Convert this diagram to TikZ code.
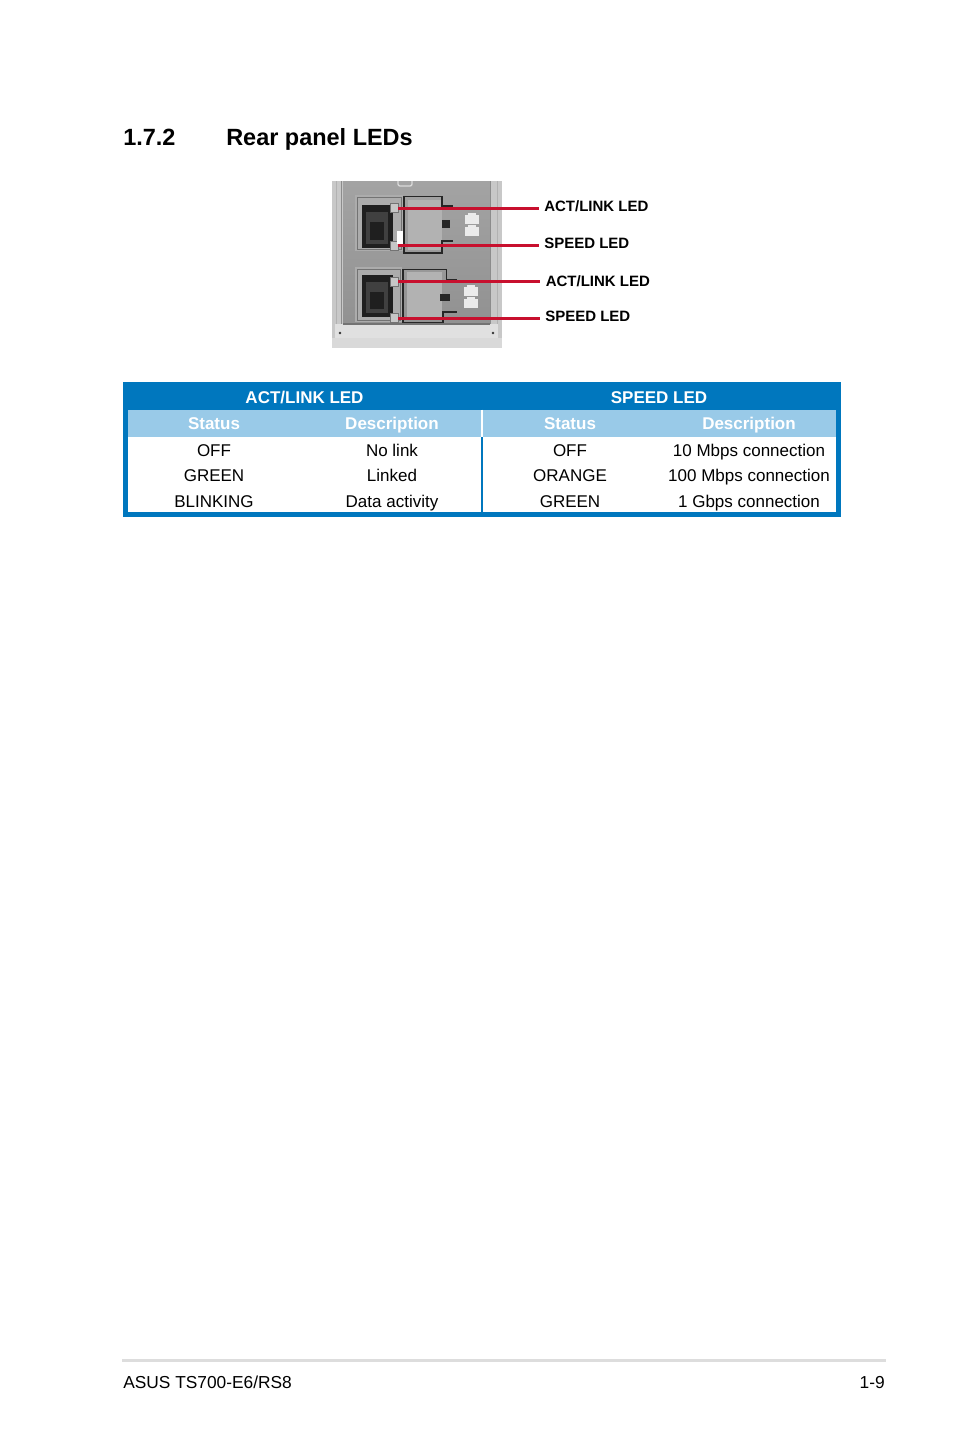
\documentclass[tikz,border=0pt]{standalone}
\usepackage{fontspec}
\setmainfont{Liberation Sans}
\definecolor{tblue}{RGB}{0,119,190}
\definecolor{tlight}{RGB}{153,202,232}
\definecolor{ledred}{RGB}{200,16,46}
\definecolor{panel}{RGB}{150,150,150}
\definecolor{panellight}{RGB}{200,200,200}
\definecolor{panelframe}{RGB}{172,172,172}
\definecolor{rulegray}{RGB}{221,221,221}
\begin{document}
\begin{tikzpicture}[x=0.75pt,y=-0.75pt,
  title/.style={inner sep=0pt,anchor=base west,font=\fontsize{17.6pt}{20pt}\selectfont\bfseries},
  lab/.style={inner sep=0pt,anchor=base west,font=\fontsize{11.25pt}{13pt}\selectfont\bfseries},
  hdr/.style={inner sep=0pt,anchor=base,text=white,font=\fontsize{12.75pt}{14pt}\selectfont\bfseries},
  cell/.style={inner sep=0pt,anchor=base,font=\fontsize{12.75pt}{14pt}\selectfont},
  foot/.style={inner sep=0pt,font=\fontsize{13pt}{15pt}\selectfont},
  redline/.style={draw=ledred,line width=2.25pt,shorten >=4pt},
  outline/.style={draw=black!85,line width=1.1pt},
  ledbox/.style={fill=black!22,draw=black!55,line width=0.5pt}]
\useasboundingbox (0,0) rectangle (954,1438);
\fill[white] (0,0) rectangle (954,1438);

% ---------- heading ----------
\node[title] (secnum) at (123,145) {1.7.2};
\node[title] (sectitle) at (226,145) {Rear panel LEDs};

% ---------- photo of the ports ----------
\fill[panel] (332,181) rectangle (502,348);
\shade[top color=black!36,bottom color=black!43] (343,181) rectangle (490,324);
\fill[panellight] (332,181) rectangle (343,338);
\draw[black!45,line width=0.6pt] (341.5,181) -- (341.5,330);
\draw[black!30,line width=0.6pt] (336,181) -- (336,338);
\fill[panellight] (490,181) rectangle (502,338);
\draw[black!45,line width=0.6pt] (490.5,181) -- (490.5,330);
\draw[black!30,line width=0.6pt] (497,181) -- (497,338);
% top bump
\draw[black!15,line width=1pt,rounded corners=1.5pt] (398,181) -- (398,186) -- (412,186) -- (412,181);
% bottom bar
\fill[black!12] (335,324) rectangle (498,338);
\draw[black!55,line width=0.8pt] (343,324) -- (490,324);
\fill[black!80] (340,333) circle (1.3);
\fill[black!80] (493,333) circle (1.3);
\fill[black!15] (332,338) rectangle (502,348);

% upper RJ45 port
\fill[panelframe] (355,195) rectangle (403,251);
\draw[black!55,line width=0.6pt] (357,197) rectangle (401,249);
\fill[black!88] (362,205) rectangle (393,248);
\fill[black!75] (366,212) rectangle (388,244);
\fill[black!88] (370,222) rectangle (384,240);
\node[ledbox,inner sep=0pt,minimum width=6pt,minimum height=7pt] (ledA1) at (394,208) {};
\node[ledbox,inner sep=0pt,minimum width=6pt,minimum height=7pt] (ledS1) at (394,245.5) {};
\fill[white] (397,231) rectangle (403,244);
% upper module
\fill[black!30] (408,200) rectangle (442,250);
\draw[outline] (453,206) -- (442,206) -- (442,196.5) -- (404,196.5) -- (404,253) -- (442,253) -- (442,241) -- (453,241);
\fill[black!85] (442,220) rectangle (450,228);
\fill[black!8] (465,215) rectangle (479,224);
\fill[black!8] (468,213) rectangle (476,216);
\fill[black!8] (465,227) rectangle (479,236);
\fill[black!8] (468,225) rectangle (476,228);

% lower RJ45 port
\fill[panelframe] (355,267) rectangle (402,322);
\draw[black!55,line width=0.6pt] (357,269) rectangle (400,320);
\fill[black!88] (362,275) rectangle (393,317);
\fill[black!75] (366,282) rectangle (388,313);
\fill[black!88] (370,292) rectangle (384,309);
\node[ledbox,inner sep=0pt,minimum width=6pt,minimum height=7pt] (ledA2) at (394,281.5) {};
\node[ledbox,inner sep=0pt,minimum width=6pt,minimum height=7pt] (ledS2) at (394,318) {};
% lower module
\fill[black!30] (407,272) rectangle (442,320);
\draw[outline] (456.7,280) -- (446.7,280) -- (446.7,269.3) -- (403,269.3) -- (403,322.5) -- (443,322.5) -- (443,312) -- (456.7,312);
\fill[black!85] (440,294) rectangle (450,300.5);
\fill[black!8] (464,287) rectangle (478,296);
\fill[black!8] (467,285) rectangle (475,288);
\fill[black!8] (464,299) rectangle (478,308);
\fill[black!8] (467,297) rectangle (475,300);

% ---------- LED labels ----------
\node[lab] (labA1) at (544,211) {ACT/LINK LED};
\node[lab] (labS1) at (544,248.8) {SPEED LED};
\node[lab] (labA2) at (545.5,286) {ACT/LINK LED};
\node[lab] (labS2) at (545,321.5) {SPEED LED};
\draw[redline] (ledA1.east) -- (ledA1.east -| labA1.west);
\draw[redline] (ledS1.east) -- (ledS1.east -| labS1.west);
\draw[redline] (ledA2.east) -- (ledA2.east -| labA2.west);
\draw[redline] (ledS2.east) -- (ledS2.east -| labS2.west);

% ---------- table ----------
\fill[tblue] (123,382) rectangle (841,517);
\fill[tlight] (127.7,409.5) rectangle (836,437);
\fill[white] (127.7,437) rectangle (836,512);
\draw[white,line width=1.1pt] (482,409.5) -- (482,437);
\draw[tblue,line width=1.1pt] (482,437) -- (482,512);

\node[hdr] (hA) at (304.5,403.3) {ACT/LINK LED};
\node[hdr] (hB) at (659,403.3) {SPEED LED};
\node[hdr] (sA) at (214,429.3) {Status};
\node[hdr] (dA) at (392,429.3) {Description};
\node[hdr] (sB) at (570,429.3) {Status};
\node[hdr] (dB) at (749,429.3) {Description};

\node[cell] (a11) at (214,456.7) {OFF};
\node[cell] (a12) at (392,456.7) {No link};
\node[cell] (b11) at (570,456.7) {OFF};
\node[cell] (b12) at (749,456.7) {10 Mbps connection};
\node[cell] (a21) at (214,481.9) {GREEN};
\node[cell] (a22) at (392,481.9) {Linked};
\node[cell] (b21) at (570,481.9) {ORANGE};
\node[cell] (b22) at (749,481.9) {100 Mbps connection};
\node[cell] (a31) at (214,507.3) {BLINKING};
\node[cell] (a32) at (392,507.3) {Data activity};
\node[cell] (b31) at (570,507.3) {GREEN};
\node[cell] (b32) at (749,507.3) {1 Gbps connection};

% ---------- footer ----------
\draw[rulegray,line width=2.2pt] (122,1360.5) -- (886,1360.5);
\node[foot,anchor=base west] (fl) at (123,1388) {ASUS TS700-E6/RS8};
\node[foot,anchor=base east] (fr) at (885,1388) {1-9};
\end{tikzpicture}
\end{document}
